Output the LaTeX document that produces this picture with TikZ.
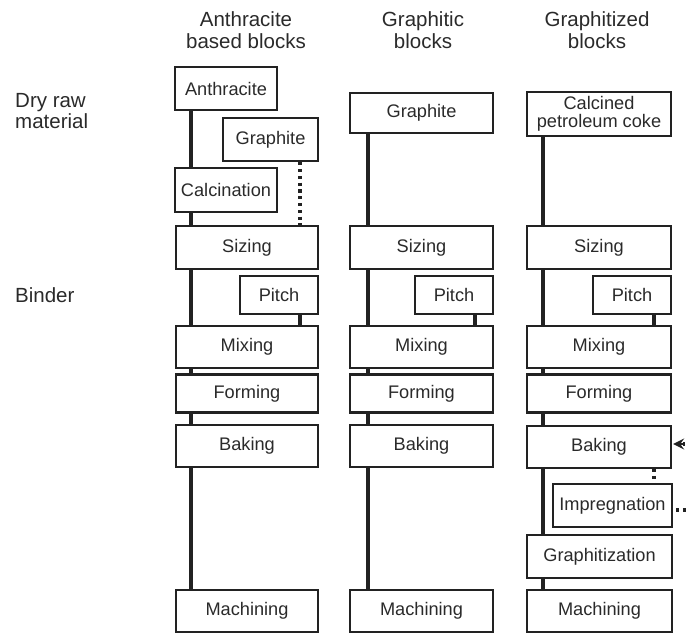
\documentclass[tikz,border=0pt]{standalone}
\usepackage{fontspec}
\setmainfont{Liberation Sans}
\usetikzlibrary{arrows.meta,calc}
\definecolor{ink}{HTML}{222222}
\definecolor{txt}{HTML}{2A2A2A}
\begin{document}
\begin{tikzpicture}[x=1pt,y=-1pt,
  box/.style={draw=ink, line width=2.3pt, inner sep=0pt, align=center, text=txt,
    font=\fontsize{18.2}{18}\selectfont},
  lbl/.style={inner sep=0pt, align=center, text=txt, font=\fontsize{20.5}{21.5}\selectfont},
  spine/.style={draw=ink, line width=3.6pt},
  dotline/.style={draw=ink, line width=3.2pt, dash pattern=on 3.2pt off 3.6pt},
]
\useasboundingbox (0,0) rectangle (689,633);
% headers
\node[lbl] (h1) at (246,30) {Anthracite\\based blocks};
\node[lbl] (h2) at (423,30) {Graphitic\\blocks};
\node[lbl] (h3) at (597,30) {Graphitized\\blocks};
\node[lbl, align=left, anchor=west] (l1) at (15,111) {Dry raw\\material};
\node[lbl, anchor=base west] (l2) at (15,302) {Binder};
% spine coordinates
\coordinate (s1) at (191,0);
\coordinate (s2) at (368,0);
\coordinate (s3) at (543,0);
\coordinate (p1) at (300,0);
\coordinate (p2) at (475,0);
\coordinate (p3) at (654,0);
% column 1
\node[box, minimum width=102, minimum height=43] (A1) at (226,88.5) {Anthracite};
\node[box, minimum width=95, minimum height=43] (G1) at (270.5,139.5) {Graphite};
\node[box, minimum width=102, minimum height=44] (C1) at (226,190) {Calcination};
\node[box, minimum width=142, minimum height=43] (S1) at (247,247.5) {Sizing};
\node[box, minimum width=78, minimum height=38] (P1) at (279,295) {Pitch};
\node[box, minimum width=142, minimum height=42] (M1) at (247,347) {Mixing};
\node[box, minimum width=142, minimum height=38] (F1) at (247,393.5) {Forming};
\node[box, minimum width=142, minimum height=42] (B1) at (247,446) {Baking};
\node[box, minimum width=142, minimum height=42] (X1) at (247,611) {Machining};
% column 2
\node[box, minimum width=143, minimum height=40] (G2) at (421.5,113) {Graphite};
\node[box, minimum width=143, minimum height=43] (S2) at (421.5,247.5) {Sizing};
\node[box, minimum width=78, minimum height=38] (P2) at (454,295) {Pitch};
\node[box, minimum width=143, minimum height=42] (M2) at (421.5,347) {Mixing};
\node[box, minimum width=143, minimum height=38] (F2) at (421.5,393.5) {Forming};
\node[box, minimum width=143, minimum height=42] (B2) at (421.5,446) {Baking};
\node[box, minimum width=143, minimum height=42] (X2) at (421.5,611) {Machining};
% column 3
\node[box, minimum width=144, minimum height=44] (K3) at (599,114) {Calcined\\petroleum coke};
\node[box, minimum width=144, minimum height=43] (S3) at (599,247.5) {Sizing};
\node[box, minimum width=78, minimum height=38] (P3) at (632,295) {Pitch};
\node[box, minimum width=144, minimum height=42] (M3) at (599,347) {Mixing};
\node[box, minimum width=144, minimum height=38] (F3) at (599,393.5) {Forming};
\node[box, minimum width=144, minimum height=42] (B3) at (599,447) {Baking};
\node[box, minimum width=119, minimum height=43] (I3) at (612.5,505.5) {Impregnation};
\node[box, minimum width=145, minimum height=43] (T3) at (599.5,556.5) {Graphitization};
\node[box, minimum width=145, minimum height=42] (X3) at (599.5,611) {Machining};
% spines column 1
\draw[spine] (A1.south -| s1) -- (C1.north -| s1);
\draw[spine] (C1.south -| s1) -- (S1.north -| s1);
\draw[spine] (S1.south -| s1) -- (M1.north -| s1);
\draw[spine] (M1.south -| s1) -- (F1.north -| s1);
\draw[spine] (F1.south -| s1) -- (B1.north -| s1);
\draw[spine] (B1.south -| s1) -- (X1.north -| s1);
\draw[spine] (P1.south -| p1) -- (M1.north -| p1);
\draw[dotline] (G1.south -| p1) -- (S1.north -| p1);
% spines column 2
\draw[spine] (G2.south -| s2) -- (S2.north -| s2);
\draw[spine] (S2.south -| s2) -- (M2.north -| s2);
\draw[spine] (M2.south -| s2) -- (F2.north -| s2);
\draw[spine] (F2.south -| s2) -- (B2.north -| s2);
\draw[spine] (B2.south -| s2) -- (X2.north -| s2);
\draw[spine] (P2.south -| p2) -- (M2.north -| p2);
% spines column 3
\draw[spine] (K3.south -| s3) -- (S3.north -| s3);
\draw[spine] (S3.south -| s3) -- (M3.north -| s3);
\draw[spine] (M3.south -| s3) -- (F3.north -| s3);
\draw[spine] (F3.south -| s3) -- (B3.north -| s3);
\draw[spine] (B3.south -| s3) -- (T3.north -| s3);
\draw[spine] (T3.south -| s3) -- (X3.north -| s3);
\draw[spine] (P3.south -| p3) -- (M3.north -| p3);
\draw[dotline] (B3.south -| p3) -- (I3.north -| p3);
% recycle loop (cut at the edge)
\coordinate (e1) at (692,444);
\coordinate (e2) at (692,510);
\draw[dotline] (e1) -- ([xshift=11pt]B3.east |- e1);
\draw[draw=ink, line width=2.4pt, -{Stealth[length=11pt,width=11pt,inset=4pt]}] ([xshift=13pt]B3.east |- e1) -- ([xshift=1pt]B3.east |- e1);
\draw[dotline] ([xshift=3pt]I3.east |- e2) -- (e2);
\end{tikzpicture}
\end{document}
